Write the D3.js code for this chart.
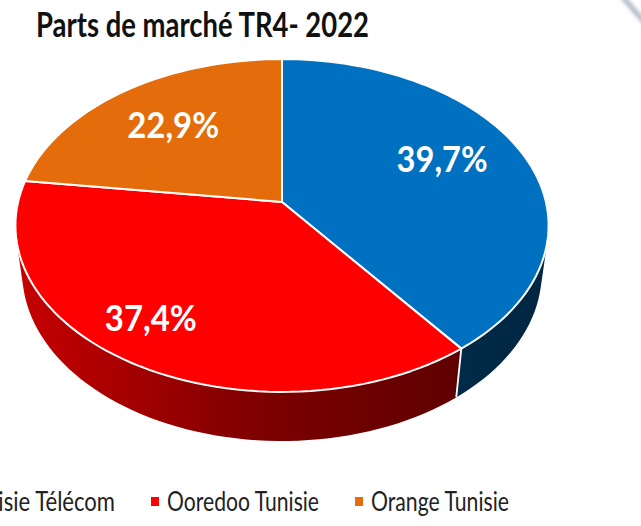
<!DOCTYPE html>
<html>
<head>
<meta charset="utf-8">
<script src="https://cdn.jsdelivr.net/npm/d3@7"></script>
<style>
  html, body { margin: 0; padding: 0; background: #fff; }
  svg { display: block; }
</style>
</head>
<body>
<svg id="chart" width="641" height="526"></svg>
<script>
const categories = ["Tunisie Télécom", "Ooredoo Tunisie", "Orange Tunisie"];
const shares = [39.7, 37.4, 22.9];
const shareLabels = ["39,7%", "37,4%", "22,9%"];
const colors = ["#0070C0", "#FF0000", "#E46C0A"];

const W = 641, H = 526;
const svg = d3.select("#chart");
const defs = svg.append("defs");

// perspective camera for the tilted disc
const cam = { cx: 282, cy: 202, F: 1470, D: 5.57, phi: Math.asin(0.618), h: 0.233 };
const sinP = Math.sin(cam.phi), cosP = Math.cos(cam.phi);

function project(X, Y, Z) {
  const depth = cam.D + Y * cosP - Z * sinP;
  return [cam.cx + (cam.F * X) / depth, cam.cy - (cam.F * (Y * sinP + Z * cosP)) / depth];
}

function rim(a0, a1, Z, r = 1) {
  const n = Math.max(2, Math.ceil(((a1 - a0) / Math.PI) * 90));
  return d3.range(n + 1).map(i => {
    const a = a0 + ((a1 - a0) * i) / n;
    return project(r * Math.sin(a), r * Math.cos(a), Z);
  });
}

const arcs = d3.pie().sort(null).value(d => d)(shares);
const line = d3.line();

// side wall only faces the camera on the front part
const k = 1 / (cam.D * cosP);
const visA = Math.acos(-k), visB = 2 * Math.PI - Math.acos(-k);

// darker shading from left to right
const shade = d3.scaleLinear().domain([15, 250, 440, 550]).range([0.78, 0.5, 0.38, 0.34]);

arcs.forEach((a, i) => {
  const c = d3.rgb(colors[i]);
  const g = defs.append("linearGradient")
    .attr("id", "side" + i)
    .attr("gradientUnits", "userSpaceOnUse")
    .attr("x1", 15).attr("x2", 550).attr("y1", 0).attr("y2", 0);
  shade.domain().forEach(x => {
    const f = shade(x);
    g.append("stop")
      .attr("offset", (x - 15) / 535)
      .attr("stop-color", d3.rgb(c.r * f, c.g * f, c.b * f));
  });
});

const walls = svg.append("g");
arcs.forEach((a, i) => {
  const s = Math.max(a.startAngle, visA), e = Math.min(a.endAngle, visB);
  if (e <= s) return;
  const top = rim(s, e, 0);
  const bot = rim(s, e, -cam.h).reverse();
  walls.append("path")
    .attr("d", line(top.concat(bot)) + "Z")
    .attr("fill", `url(#side${i})`);
});

// seams between side pieces
arcs.forEach(a => {
  const s = a.startAngle;
  if (s > visA && s < visB) {
    const p0 = project(Math.sin(s), Math.cos(s), 0);
    const p1 = project(Math.sin(s), Math.cos(s), -cam.h);
    walls.append("line")
      .attr("x1", p0[0]).attr("y1", p0[1])
      .attr("x2", p1[0]).attr("y2", p1[1])
      .attr("stroke", "#fff").attr("stroke-width", 1.8);
  }
});

// top faces
const tops = svg.append("g");
arcs.forEach((a, i) => {
  const pts = [project(0, 0, 0)].concat(rim(a.startAngle, a.endAngle, 0));
  tops.append("path")
    .attr("d", line(pts) + "Z")
    .attr("fill", colors[i])
    .attr("stroke", "#fff")
    .attr("stroke-width", 2)
    .attr("stroke-linejoin", "round");
});

// data labels
const labelR = [0.68, 0.79, 0.67];
const labelNudge = [[-5, -8], [-15, -7], [0, 0]];
const labelW = [91, 92, 92];
arcs.forEach((a, i) => {
  const m = (a.startAngle + a.endAngle) / 2;
  const p = project(labelR[i] * Math.sin(m), labelR[i] * Math.cos(m), 0);
  svg.append("text")
    .attr("x", p[0] + labelNudge[i][0]).attr("y", p[1] + 12.5 + labelNudge[i][1])
    .attr("text-anchor", "middle")
    .attr("font-family", "Lato, 'Open Sans', sans-serif")
    .attr("font-weight", 700)
    .attr("font-size", 36)
    .attr("fill", "#fff")
    .attr("textLength", labelW[i])
    .attr("lengthAdjust", "spacingAndGlyphs")
    .text(shareLabels[i]);
});

// title
svg.append("text")
  .attr("x", 36).attr("y", 37)
  .attr("font-family", "Lato, 'Open Sans', sans-serif")
  .attr("font-weight", 700)
  .attr("font-size", 34)
  .attr("fill", "#111")
  .attr("textLength", 333)
  .attr("lengthAdjust", "spacingAndGlyphs")
  .text("Parts de marché TR4- 2022");

// legend
const legendX = [-53, 151, 355];
const legendW = [152, 152, 138];
const legend = svg.append("g");
categories.forEach((name, i) => {
  legend.append("rect")
    .attr("x", legendX[i]).attr("y", 497)
    .attr("width", 8).attr("height", 9)
    .attr("fill", colors[i]);
  legend.append("text")
    .attr("x", legendX[i] + 16).attr("y", 511)
    .attr("font-family", "Lato, 'Open Sans', sans-serif")
    .attr("font-size", 27)
    .attr("fill", "#222")
    .attr("textLength", legendW[i])
    .attr("lengthAdjust", "spacingAndGlyphs")
    .text(name);
});

// corner decoration (slide background)
defs.append("filter").attr("id", "blur")
  .append("feGaussianBlur").attr("stdDeviation", 2);
svg.append("path")
  .attr("d", "M622,-4 Q632,8 646,24")
  .attr("fill", "none")
  .attr("stroke", "#9aa6b8")
  .attr("stroke-width", 4)
  .attr("filter", "url(#blur)");
</script>
</body>
</html>
